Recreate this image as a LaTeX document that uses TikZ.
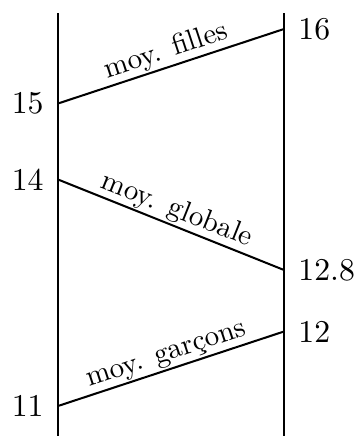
\documentclass[tikz,border=0pt]{standalone}
\begin{document}
\begin{tikzpicture}[x=0.345pt,y=-0.345pt,
  axisline/.style={line width=0.7pt},
  meanline/.style={line width=0.7pt},
  vallabel/.style={inner sep=4.8pt,font=\fontsize{10.95}{13.6}\selectfont},
  meanlabel/.style={midway,above,sloped,inner sep=0.5pt,font=\fontsize{10}{12}\selectfont}]
\useasboundingbox (0,0) rectangle (355,436);
% axes
\coordinate (Ltop) at (58,13);
\coordinate (Lbot) at (58,436);
\coordinate (Rtop) at (284,13);
\coordinate (Rbot) at (284,436);
\draw[axisline] (Ltop) -- (Lbot);
\draw[axisline] (Rtop) -- (Rbot);
% value points
\coordinate (L15) at (58,103.5);
\coordinate (L14) at (58,179.5);
\coordinate (L11) at (58,406);
\coordinate (R16) at (284,29);
\coordinate (R128) at (284,270);
\coordinate (R12) at (284,331.5);
% labels
\node[vallabel,anchor=east] (t15) at (L15) {15};
\node[vallabel,anchor=east] (t14) at (L14) {14};
\node[vallabel,anchor=east] (t11) at (L11) {11};
\node[vallabel,anchor=west] (t16) at (R16) {16};
\node[vallabel,anchor=west] (t128) at (R128) {12.8};
\node[vallabel,anchor=west] (t12) at (R12) {12};
% means
\draw[meanline] (L15) -- node[meanlabel] (mf) {moy. filles} (R16);
\draw[meanline] (L14) -- node[meanlabel] (mg) {moy. globale} (R128);
\draw[meanline] (L11) -- node[meanlabel] (mb) {moy. garçons} (R12);
\end{tikzpicture}
\end{document}
